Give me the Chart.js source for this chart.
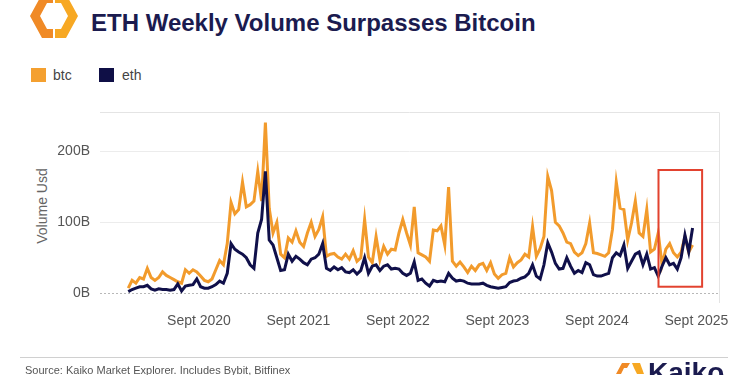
<!DOCTYPE html>
<html>
<head>
<meta charset="utf-8">
<script src="https://cdn.jsdelivr.net/npm/chart.js@4/dist/chart.umd.min.js"></script>
<style>
html,body{margin:0;padding:0;background:#fff;width:750px;height:375px;overflow:hidden;font-family:"Liberation Sans",Arial,sans-serif;}
#wrap{position:relative;width:750px;height:375px;overflow:hidden;}
#c{position:absolute;left:0;top:0;}
.title{position:absolute;left:91px;top:11px;font-size:24px;line-height:24px;font-weight:bold;color:#1b1b4f;white-space:nowrap;}
.logo{position:absolute;left:0;top:0;}
.sw{position:absolute;width:15px;height:14px;top:68px;}
.lt{position:absolute;top:67px;font-size:14px;line-height:16px;color:#444;}
.ytitle{position:absolute;left:-8px;top:198px;width:100px;height:16px;line-height:16px;font-size:14px;color:#666;text-align:center;transform:rotate(-90deg);transform-origin:50% 50%;}
.foot{position:absolute;left:20px;top:357px;width:708px;height:1px;background:#d0d0d0;}
.src{position:absolute;left:25px;top:364px;font-size:11px;line-height:12px;color:#555;white-space:nowrap;}
.kaiko{position:absolute;left:648px;top:358px;font-size:28px;line-height:30px;font-weight:bold;color:#1b1b4f;}
</style>
</head>
<body>
<div id="wrap">
  <svg class="logo" width="90" height="45" viewBox="0 0 90 45">
    <defs>
      <clipPath id="lh"><rect x="0" y="-10" width="53" height="60"/></clipPath>
      <clipPath id="rh"><rect x="55" y="-10" width="40" height="60"/></clipPath>
    </defs>
    <path clip-path="url(#lh)" fill="#f08a26" fill-rule="evenodd" d="M42,-6 L66,-6 L78,16 L66,38 L42,38 L30,16 Z M47,3 L61,3 L68,16 L61,29 L47,29 L40,16 Z"/>
    <path clip-path="url(#rh)" fill="#f7a823" fill-rule="evenodd" d="M42,-6 L66,-6 L78,16 L66,38 L42,38 L30,16 Z M47,3 L61,3 L68,16 L61,29 L47,29 L40,16 Z"/>
  </svg>
  <div class="title">ETH Weekly Volume Surpasses Bitcoin</div>
  <div class="sw" style="left:31px;background:#f4a030;"></div>
  <div class="lt" style="left:53px;">btc</div>
  <div class="sw" style="left:99px;background:#0f0f46;"></div>
  <div class="lt" style="left:122px;">eth</div>
  <div class="ytitle">Volume Usd</div>
  <canvas id="c" width="750" height="375"></canvas>
  <div class="foot"></div>
  <div class="src">Source: Kaiko Market Explorer. Includes Bybit, Bitfinex</div>
  <svg style="position:absolute;left:612px;top:360px;" width="32" height="20" viewBox="0 0 32 20">
    <path fill="#f08a26" d="M4,14 L10,3 L18,3 L15,8 L12,8 L9,14 Z"/>
    <path fill="#f7a823" d="M20,3 L28,3 L32,14 L25,14 L22,8 Z"/>
  </svg>
  <div class="kaiko">Kaiko</div>
</div>
<script>
// Weekly volume (billions USD), sampled every two weeks starting mid-Dec 2019
const startDate = Date.UTC(2019, 11, 16);
const stepDays = 14;

const btc = [7,18,14,22,20,35,22,18,22,30,
  25,22,19,16,14,33,28,33,30,24,
  18,16,20,33,46,40,70,128,112,118,
  157,122,125,130,172,130,241,120,85,100,
  55,50,78,72,88,72,66,85,100,80,
  90,108,52,55,56,51,48,55,48,60,
  45,50,104,51,43,80,47,66,55,62,
  61,85,104,85,68,122,57,54,51,45,
  89,88,95,68,150,45,38,44,37,29,
  38,32,40,42,32,43,27,21,26,28,
  50,37,43,47,55,51,94,52,63,80,
  165,145,100,95,85,72,70,58,53,57,
  70,99,57,56,54,52,57,90,157,120,
  118,75,99,130,85,80,118,58,62,85,
  40,62,70,57,51,58,80,58,68];

const eth = [2,5,7,9,9,11,6,4,6,5,
  5,4,5,13,3,10,11,12,20,9,
  7,7,9,12,17,14,28,70,62,58,
  55,50,40,35,85,104,172,75,68,50,
  32,33,55,45,52,48,43,40,48,50,
  55,70,35,32,37,33,36,30,29,33,
  27,32,50,28,38,40,32,38,40,34,
  35,34,28,25,28,44,18,20,14,10,
  18,16,17,16,28,21,17,18,17,14,
  13,13,13,14,11,9,8,7,8,9,
  15,17,18,21,23,28,40,24,20,40,
  71,58,42,34,35,50,38,28,32,29,
  43,40,26,24,24,26,28,50,57,53,
  68,35,45,55,58,40,55,34,36,24,
  38,50,40,42,34,50,82,58,92];

const tickYears = [2020, 2021, 2022, 2023, 2024, 2025];
const tickLabels = ["Sept 2020", "Sept 2021", "Sept 2022", "Sept 2023", "Sept 2024", "Sept 2025"];
const yTicks = [0, 100, 200];

// highlighted period (red box): dates and volume range in billions
const highlightStart = Date.UTC(2025, 3, 15);
const highlightEnd = Date.UTC(2025, 8, 22);
const highlightLow = 9;
const highlightHigh = 174;

function toYear(ms) {
  const d = new Date(ms); const y = d.getUTCFullYear();
  const s = Date.UTC(y, 0, 1), e = Date.UTC(y + 1, 0, 1);
  return y + (ms - s) / (e - s);
}
const xs = btc.map((_, i) => toYear(startDate + i * stepDays * 86400000));
const tickVals = tickYears.map(y => toYear(Date.UTC(y, 8, 1)));

const frame = {
  id: 'frame',
  beforeDatasetsDraw(chart) {
    const {ctx, chartArea: a, scales: {y}} = chart;
    ctx.save();
    ctx.strokeStyle = '#e4e4e4'; ctx.lineWidth = 1;
    ctx.beginPath();
    ctx.moveTo(a.left, Math.round(a.top) + 0.5);
    ctx.lineTo(Math.round(a.right) + 0.5, Math.round(a.top) + 0.5);
    ctx.lineTo(Math.round(a.right) + 0.5, a.bottom);
    ctx.stroke();
    const y0 = Math.round(y.getPixelForValue(0)) + 0.5;
    ctx.setLineDash([2, 2]); ctx.strokeStyle = '#b8b8b8';
    ctx.beginPath(); ctx.moveTo(a.left, y0); ctx.lineTo(a.right, y0); ctx.stroke();
    ctx.restore();
  },
  afterDatasetsDraw(chart) {
    const {ctx, scales: {x, y}} = chart;
    const x1 = x.getPixelForValue(toYear(highlightStart));
    const x2 = x.getPixelForValue(toYear(highlightEnd));
    const y1 = y.getPixelForValue(highlightHigh);
    const y2 = y.getPixelForValue(highlightLow);
    ctx.save();
    ctx.strokeStyle = '#e2422f'; ctx.lineWidth = 2;
    ctx.strokeRect(x1, y1, x2 - x1, y2 - y1);
    ctx.restore();
  }
};

Chart.defaults.font.family = '"Liberation Sans", Arial, sans-serif';
new Chart(document.getElementById('c'), {
  type: 'line',
  data: {
    datasets: [
      {label: 'eth', data: eth.map((v, i) => ({x: xs[i], y: v})), borderColor: '#10104a', borderWidth: 3, pointRadius: 0, tension: 0, order: 0},
      {label: 'btc', data: btc.map((v, i) => ({x: xs[i], y: v})), borderColor: '#f29b2c', borderWidth: 3, pointRadius: 0, tension: 0, order: 1}
    ]
  },
  options: {
    responsive: false, animation: false, devicePixelRatio: 1,
    layout: {padding: {top: 112, right: 31, left: 0, bottom: 0}},
    plugins: {legend: {display: false}, tooltip: {enabled: false}},
    scales: {
      x: {
        type: 'linear', min: 2019.672, max: 2025.893,
        afterFit(s) { s.height = 72; },
        afterBuildTicks(s) { s.ticks = tickVals.map(v => ({value: v})); },
        grid: {display: false, drawTicks: false},
        border: {display: false},
        ticks: {padding: 10, color: '#555', font: {size: 14}, maxRotation: 0, autoSkip: false,
          callback: (v) => { const k = tickVals.findIndex(t => Math.abs(t - v) < 1e-6); return k >= 0 ? tickLabels[k] : ''; }}
      },
      y: {
        min: -14, max: 256,
        afterFit(s) { s.width = 100; },
        afterBuildTicks(s) { s.ticks = yTicks.map(v => ({value: v})); },
        grid: {drawTicks: false, color: (c) => c.tick && c.tick.value === 0 ? 'rgba(0,0,0,0)' : '#ececec'},
        border: {display: false},
        ticks: {padding: 10, color: '#555', font: {size: 14}, callback: (v) => v + 'B'}
      }
    }
  },
  plugins: [frame]
});
</script>
</body>
</html>
